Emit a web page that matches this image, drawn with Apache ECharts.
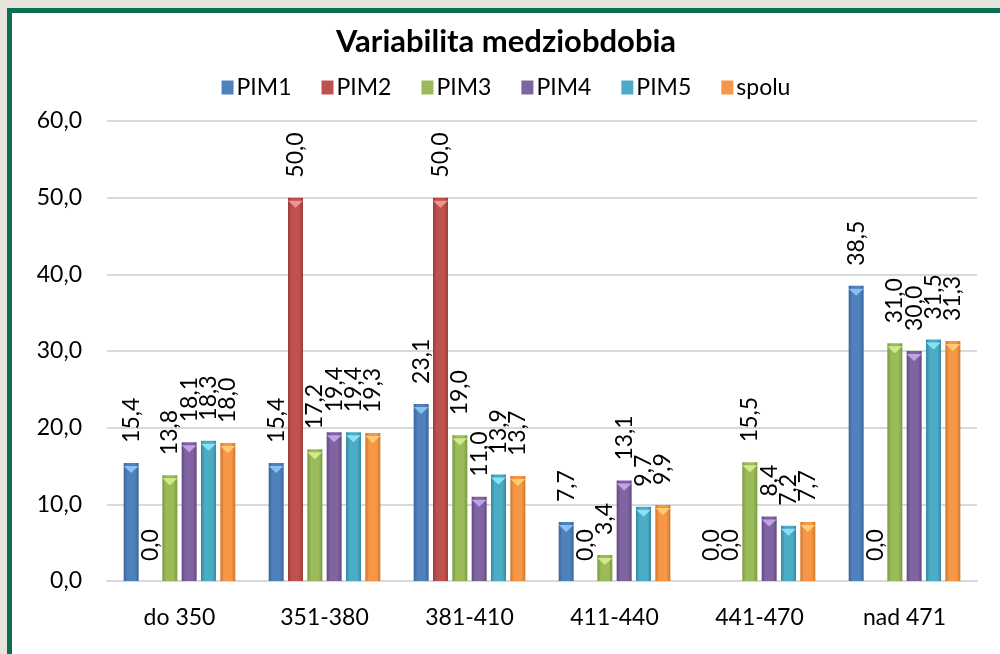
<!DOCTYPE html>
<html>
<head>
<meta charset="utf-8">
<script src="https://cdn.jsdelivr.net/npm/echarts@6/dist/echarts.min.js"></script>
<style>
  html, body { margin: 0; padding: 0; width: 1000px; height: 654px; overflow: hidden; background: #e6e4dd; }
  #frame { position: absolute; left: 7px; top: 8px; width: 1000px; height: 660px; background: #fff;
           border-left: 5px solid #0e6e52; border-top: 5px solid #0e6e52; box-sizing: border-box; }
  #chart { position: absolute; left: 12px; top: 0; width: 988px; height: 654px; }
</style>
</head>
<body>
<div id="frame"></div>
<div id="chart"></div>
<script>
const categories = ['do 350', '351-380', '381-410', '411-440', '441-470', 'nad 471'];
const seriesNames = ['PIM1', 'PIM2', 'PIM3', 'PIM4', 'PIM5', 'spolu'];
const PIM1 = [15.4, 15.4, 23.1, 7.7, 0.0, 38.5];
const PIM2 = [0.0, 50.0, 50.0, 0.0, 0.0, 0.0];
const PIM3 = [13.8, 17.2, 19.0, 3.4, 15.5, 31.0];
const PIM4 = [18.1, 19.4, 11.0, 13.1, 8.4, 30.0];
const PIM5 = [18.3, 19.4, 13.9, 9.7, 7.2, 31.5];
const spolu = [18.0, 19.3, 13.7, 9.9, 7.7, 31.3];
const yTicks = { min: 0, max: 60, interval: 10 };

const values = [PIM1, PIM2, PIM3, PIM4, PIM5, spolu];
const baseColors = ['#4f81bd', '#c0504d', '#9bbb59', '#8064a2', '#4bacc6', '#f79646'];
const darkColors = ['#3a6598', '#9b3b39', '#789a3e', '#5f4a80', '#3589a1', '#d07528'];
const lightColors = ['#8fc6f2', '#f29a98', '#d8f08e', '#c6a8ee', '#93e6f8', '#ffd07a'];

const FONT = 'Lato';
const fmt = v => Number(v).toFixed(1).replace('.', ',');
const BAR_GAP = '29%', CAT_GAP = '23%';

const barSeries = seriesNames.map((n, i) => ({
  name: n, type: 'bar', data: values[i],
  barGap: BAR_GAP, barCategoryGap: CAT_GAP,
  itemStyle: {
    color: new echarts.graphic.LinearGradient(0, 0, 1, 0, [
      { offset: 0, color: darkColors[i] },
      { offset: 0.25, color: baseColors[i] },
      { offset: 0.75, color: baseColors[i] },
      { offset: 1, color: darkColors[i] }
    ])
  },
  label: {
    show: true, position: 'top', distance: 20, rotate: 90,
    align: 'left', verticalAlign: 'middle',
    fontFamily: FONT, fontSize: 23, color: '#000',
    formatter: p => fmt(p.value)
  }
}));

const capSeries = seriesNames.map((n, i) => ({
  name: n, type: 'pictorialBar', data: values[i].map(v => (v > 0 ? v : null)),
  barGap: BAR_GAP, barCategoryGap: CAT_GAP,
  symbol: 'triangle', symbolRotate: 180, symbolPosition: 'end',
  symbolSize: ['100%', 7], symbolOffset: [0, 3],
  itemStyle: { color: lightColors[i], opacity: 0.9 },
  silent: true, z: 3
}));

const chart = echarts.init(document.getElementById('chart'));
chart.setOption({
  backgroundColor: 'transparent',
  textStyle: { fontFamily: FONT },
  title: {
    text: 'Variabilita medziobdobia',
    left: 'center', top: 21,
    textStyle: { fontFamily: FONT, fontSize: 31, fontWeight: 'bold', color: '#000' }
  },
  legend: {
    top: 71, left: 'center',
    icon: 'rect', itemWidth: 12, itemHeight: 14, itemGap: 30,
    textStyle: { fontFamily: FONT, fontSize: 23, color: '#000', padding: [0, 0, 0, -2] },
    data: seriesNames.map((n, i) => ({ name: n, itemStyle: { color: baseColors[i] } }))
  },
  grid: { left: 95, right: 23, top: 121, bottom: 73, containLabel: false },
  xAxis: {
    type: 'category', data: categories,
    axisLine: { lineStyle: { color: '#d9d9d9', width: 2 } },
    axisTick: { show: false },
    axisLabel: { fontFamily: FONT, fontSize: 23, color: '#000', margin: 25 }
  },
  yAxis: {
    type: 'value', min: yTicks.min, max: yTicks.max, interval: yTicks.interval,
    axisLine: { show: false }, axisTick: { show: false },
    splitLine: { lineStyle: { color: '#d9d9d9', width: 2 } },
    axisLabel: { fontFamily: FONT, fontSize: 23, color: '#000', margin: 25, formatter: fmt }
  },
  series: barSeries.concat(capSeries)
});
</script>
</body>
</html>
